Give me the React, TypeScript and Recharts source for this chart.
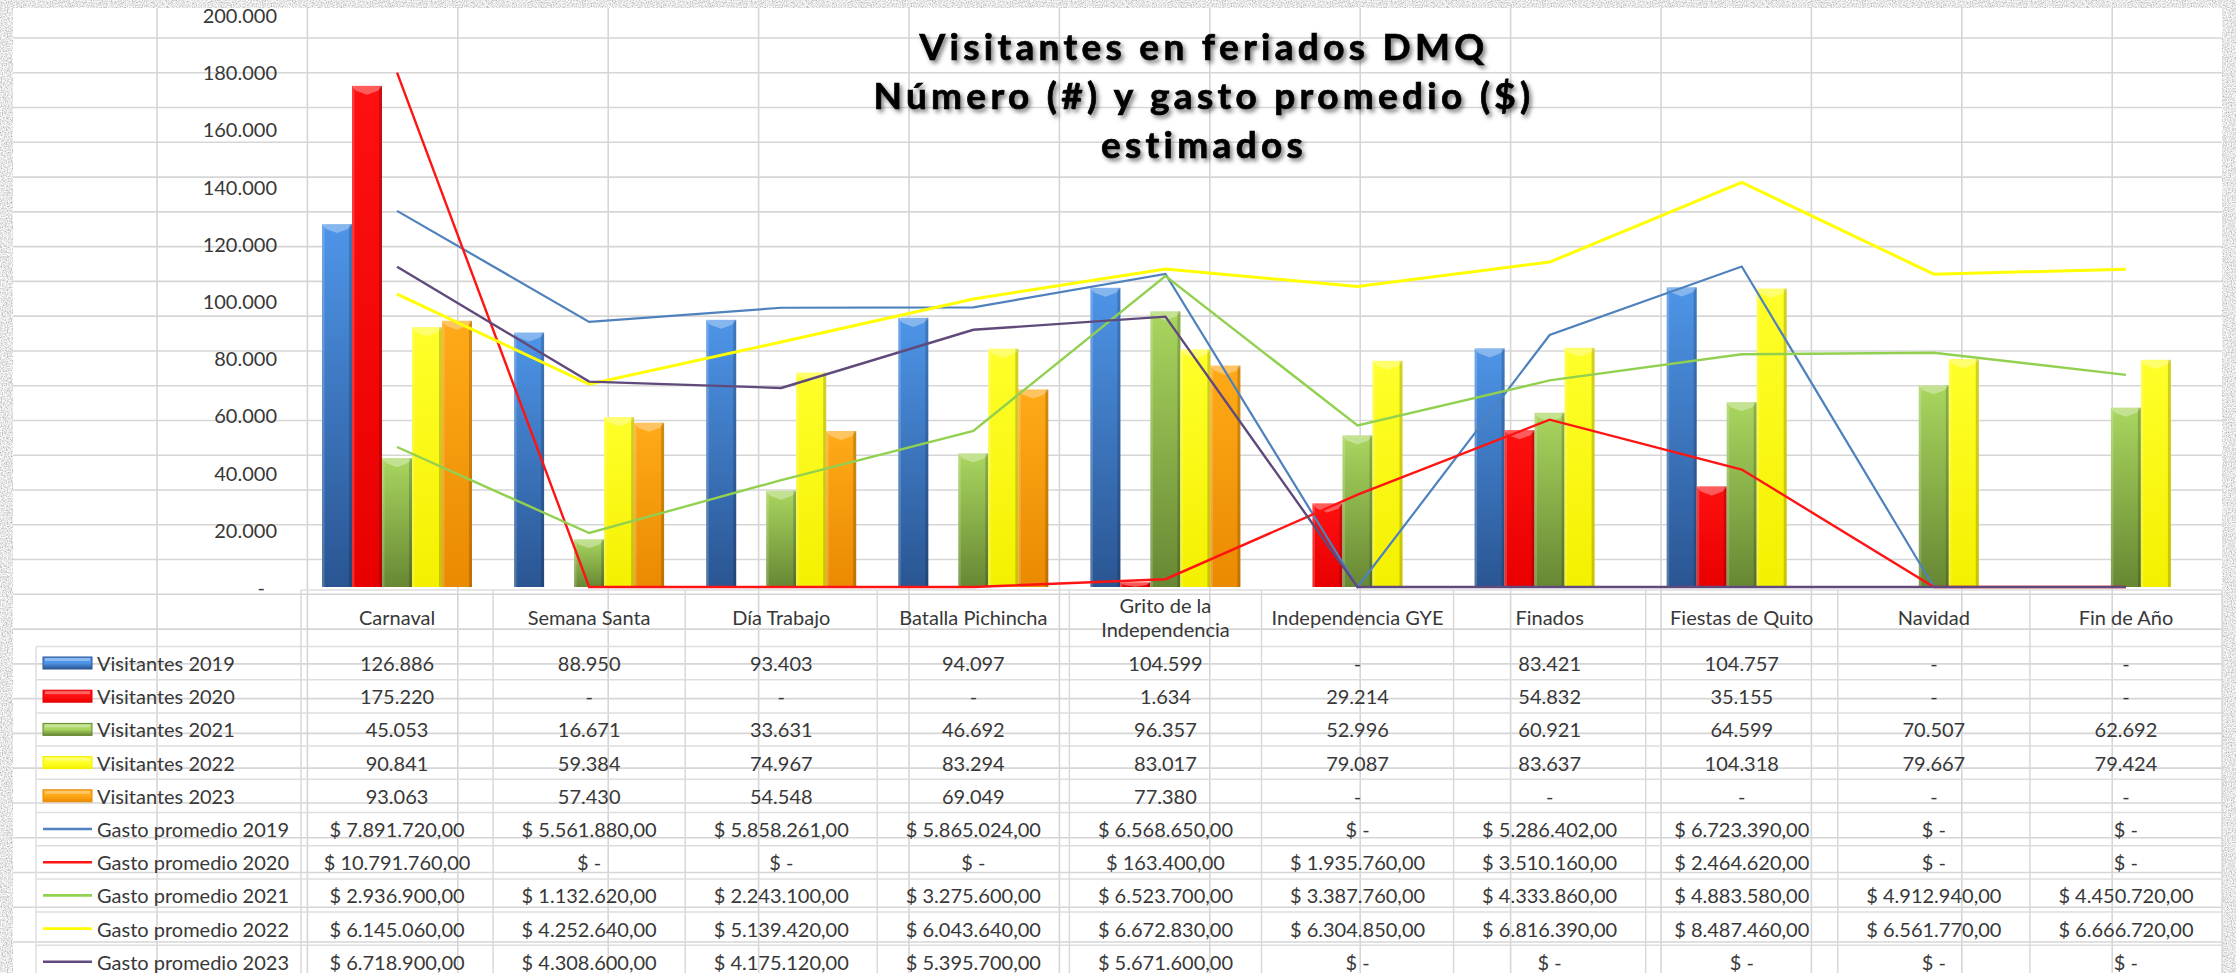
import React from 'react';
import { ComposedChart, Bar, Line, XAxis, YAxis } from 'recharts';

const categories = ['Carnaval', 'Semana Santa', 'Día Trabajo', 'Batalla Pichincha', 'Grito de la Independencia', 'Independencia GYE', 'Finados', 'Fiestas de Quito', 'Navidad', 'Fin de Año'];
const headerLines: string[][] = [['Carnaval'], ['Semana Santa'], ['Día Trabajo'], ['Batalla Pichincha'], ['Grito de la', 'Independencia'], ['Independencia GYE'], ['Finados'], ['Fiestas de Quito'], ['Navidad'], ['Fin de Año']];

const visitantes2019 = [126886, 88950, 93403, 94097, 104599, null, 83421, 104757, null, null];
const visitantes2020 = [175220, null, null, null, 1634, 29214, 54832, 35155, null, null];
const visitantes2021 = [45053, 16671, 33631, 46692, 96357, 52996, 60921, 64599, 70507, 62692];
const visitantes2022 = [90841, 59384, 74967, 83294, 83017, 79087, 83637, 104318, 79667, 79424];
const visitantes2023 = [93063, 57430, 54548, 69049, 77380, null, null, null, null, null];

const gasto2019 = [7891720, 5561880, 5858261, 5865024, 6568650, 0, 5286402, 6723390, 0, 0];
const gasto2020 = [10791760, 0, 0, 0, 163400, 1935760, 3510160, 2464620, 0, 0];
const gasto2021 = [2936900, 1132620, 2243100, 3275600, 6523700, 3387760, 4333860, 4883580, 4912940, 4450720];
const gasto2022 = [6145060, 4252640, 5139420, 6043640, 6672830, 6304850, 6816390, 8487460, 6561770, 6666720];
const gasto2023 = [6718900, 4308600, 4175120, 5395700, 5671600, 0, 0, 0, 0, 0];

const yTicks = [0, 20000, 40000, 60000, 80000, 100000, 120000, 140000, 160000, 180000, 200000];

const titleLines = ['Visitantes en feriados DMQ', 'Número (#) y gasto promedio ($)', 'estimados'];

const data = categories.map((c, i) => ({
  cat: c,
  v2019: visitantes2019[i],
  v2020: visitantes2020[i],
  v2021: visitantes2021[i],
  v2022: visitantes2022[i],
  v2023: visitantes2023[i],
  g2019: gasto2019[i],
  g2020: gasto2020[i],
  g2021: gasto2021[i],
  g2022: gasto2022[i],
  g2023: gasto2023[i],
}));

const W = 2236;
const H = 973;
const PLOT_L = 301;
const PLOT_R = 2222;
const PLOT_T = 15;
const PLOT_B = 587;
const FONT = "Lato, 'Liberation Sans', sans-serif";
const TXT = '#383838';

const barStyles = [
  { key: 'blue', top: '#4e95e8', bottom: '#2a5592', name: 'Visitantes 2019' },
  { key: 'red', top: '#ff1010', bottom: '#e80000', name: 'Visitantes 2020' },
  { key: 'green', top: '#a9d65f', bottom: '#678733', name: 'Visitantes 2021' },
  { key: 'yellow', top: '#ffff2a', bottom: '#f4f000', name: 'Visitantes 2022' },
  { key: 'orange', top: '#ffaa18', bottom: '#ea8a00', name: 'Visitantes 2023' },
];
const lineStyles = [
  { color: '#4f81bd', width: 2.2, name: 'Gasto promedio 2019' },
  { color: '#ff1414', width: 2.4, name: 'Gasto promedio 2020' },
  { color: '#92d050', width: 2.4, name: 'Gasto promedio 2021' },
  { color: '#ffff00', width: 3, name: 'Gasto promedio 2022' },
  { color: '#5f4a7b', width: 2.4, name: 'Gasto promedio 2023' },
];

const visRows = [visitantes2019, visitantes2020, visitantes2021, visitantes2022, visitantes2023];
const gasRows = [gasto2019, gasto2020, gasto2021, gasto2022, gasto2023];

const fmtInt = (n: number) => String(Math.round(n)).replace(/\B(?=(\d{3})+(?!\d))/g, '.');
const fmtVis = (n: number | null) => (n == null || n === 0 ? '-' : fmtInt(n));
const fmtMoney = (n: number) => (n === 0 ? '$ -' : '$ ' + fmtInt(n) + ',00');

const ROW0 = 663;
const ROW_STEP = 33.2;
const rowY = (i: number) => ROW0 + ROW_STEP * i;

const makeBarShape = (s: { key: string; top: string; bottom: string }) => (props: any) => {
  const { x, y, width, height } = props;
  if (x == null || !height || height <= 0.5) return <g />;
  const cap = Math.min(9, height);
  return (
    <g>
      <rect x={x} y={y} width={width} height={height} fill={`url(#bg-${s.key})`} />
      <rect x={x} y={y} width={2.5} height={height} fill="#ffffff" opacity={0.18} />
      <rect x={x + width - 3} y={y} width={3} height={height} fill="#000000" opacity={0.18} />
      <polygon
        points={`${x},${y} ${x + width},${y} ${x + width - 4},${y + cap * 0.55} ${x + width / 2},${y + cap} ${x + 4},${y + cap * 0.55}`}
        fill="#ffffff"
        opacity={0.32}
      />
    </g>
  );
};

const YTick = (props: any) => {
  const { x, y, payload } = props;
  const v = payload.value;
  return (
    <text x={v === 0 ? x - 12 : x} y={y} textAnchor="end" dominantBaseline="central" fontFamily={FONT} fontSize={20} fill={TXT}>
      {v === 0 ? '-' : fmtInt(v)}
    </text>
  );
};

const HALF = (PLOT_R - PLOT_L) / categories.length / 2;

const TableTick = (props: any) => {
  const { x, payload } = props;
  const i = categories.indexOf(payload.value);
  if (i < 0) return <g />;
  const hl = headerLines[i];
  return (
    <g>
      <line x1={x - HALF} x2={x - HALF} y1={590} y2={H} stroke="#d9d9d9" strokeWidth={1.5} />
      {i === categories.length - 1 && <line x1={x + HALF} x2={x + HALF} y1={590} y2={H} stroke="#d9d9d9" strokeWidth={1.5} />}
      {hl.length === 1 ? (
        <text x={x} y={617} textAnchor="middle" dominantBaseline="central" fontFamily={FONT} fontSize={20} fill={TXT}>{hl[0]}</text>
      ) : (
        hl.map((t, k) => (
          <text key={k} x={x} y={605 + k * 24} textAnchor="middle" dominantBaseline="central" fontFamily={FONT} fontSize={20} fill={TXT}>{t}</text>
        ))
      )}
      {visRows.map((r, k) => (
        <text key={'v' + k} x={x} y={rowY(k)} textAnchor="middle" dominantBaseline="central" fontFamily={FONT} fontSize={20} fill={TXT}>{fmtVis(r[i])}</text>
      ))}
      {gasRows.map((r, k) => (
        <text key={'g' + k} x={x} y={rowY(k + 5)} textAnchor="middle" dominantBaseline="central" fontFamily={FONT} fontSize={20} fill={TXT}>{fmtMoney(r[i])}</text>
      ))}
    </g>
  );
};

const Background = () => {
  const vLines: number[] = [];
  for (let k = -1; k < 15; k++) vLines.push(157 + 150.4 * k);
  const hLines: number[] = [];
  for (let k = -1; k < 28; k++) hLines.push(38 + 34.77 * k);
  const tLines: number[] = [];
  for (let k = 0; k < 10; k++) tLines.push(646.5 + ROW_STEP * k);
  return (
    <svg width={W} height={H} style={{ position: 'absolute', left: 0, top: 0 }}>
      <defs>
        <filter id="noise" x="0" y="0" width="100%" height="100%">
          <feTurbulence type="fractalNoise" baseFrequency="0.8" numOctaves="3" seed="7" result="t" />
          <feColorMatrix in="t" type="saturate" values="0" result="g" />
          <feComponentTransfer in="g">
            <feFuncR type="linear" slope="1.4" intercept="0.1" />
            <feFuncG type="linear" slope="1.4" intercept="0.1" />
            <feFuncB type="linear" slope="1.4" intercept="0.1" />
            <feFuncA type="linear" slope="0" intercept="1" />
          </feComponentTransfer>
        </filter>
        <filter id="tshadow" x="-10%" y="-30%" width="120%" height="160%">
          <feDropShadow dx="2.5" dy="3" stdDeviation="2" floodColor="#000" floodOpacity="0.5" />
        </filter>
        {barStyles.map((s) => (
          <linearGradient key={s.key} id={`bg-${s.key}`} x1="0" y1="0" x2="0" y2="1">
            <stop offset="0" stopColor={s.top} />
            <stop offset="1" stopColor={s.bottom} />
          </linearGradient>
        ))}
        {barStyles.map((s) => (
          <linearGradient key={'k' + s.key} id={`kg-${s.key}`} x1="0" y1="0" x2="0" y2="1">
            <stop offset="0" stopColor={s.top} />
            <stop offset="0.5" stopColor={s.top} />
            <stop offset="1" stopColor={s.bottom} />
          </linearGradient>
        ))}
      </defs>
      <rect x={0} y={0} width={W} height={H} fill="#d0d0d0" filter="url(#noise)" />
      <rect x={13} y={8} width={2222 - 13} height={H - 8} fill="#ffffff" />
      <g stroke="#d6d6d6" strokeWidth={1.6}>
        {vLines.filter((v) => v > 13 && v < 2222).map((v, k) => (
          <line key={'v' + k} x1={v} x2={v} y1={8} y2={H} />
        ))}
        {hLines.filter((v) => v > 8).map((v, k) => (
          <line key={'h' + k} x1={13} x2={2222} y1={v} y2={v} />
        ))}
      </g>
      <g stroke="#dedede" strokeWidth={1.5}>
        <line x1={PLOT_L} x2={PLOT_R} y1={590} y2={590} />
        {tLines.map((v, k) => (
          <line key={'t' + k} x1={36} x2={PLOT_R} y1={v} y2={v} />
        ))}
        <line x1={36} x2={36} y1={646.5} y2={H} />
      </g>
      {barStyles.map((s, k) => (
        <g key={'lk' + k}>
          <rect x={43} y={rowY(k) - 6} width={49} height={12} fill={`url(#kg-${s.key})`} stroke={s.bottom} strokeWidth={1} />
          <rect x={45} y={rowY(k) - 5} width={45} height={3} fill="#ffffff" opacity={0.35} />
          <text x={97} y={rowY(k)} dominantBaseline="central" fontFamily={FONT} fontSize={20} fill={TXT}>{s.name}</text>
        </g>
      ))}
      {lineStyles.map((s, k) => (
        <g key={'ll' + k}>
          <line x1={43} x2={92} y1={rowY(k + 5)} y2={rowY(k + 5)} stroke={s.color} strokeWidth={2.6} />
          <text x={97} y={rowY(k + 5)} dominantBaseline="central" fontFamily={FONT} fontSize={20} fill={TXT}>{s.name}</text>
        </g>
      ))}
      <g filter="url(#tshadow)">
        {titleLines.map((t, k) => (
          <text key={k} x={1204} y={60 + k * 49} textAnchor="middle" fontFamily={FONT} fontWeight={700} fontSize={37} letterSpacing={4.3} fill="#000000" stroke="#000000" strokeWidth={0.7}>
            {t}
          </text>
        ))}
      </g>
    </svg>
  );
};

export default function App() {
  const barKeys = ['v2019', 'v2020', 'v2021', 'v2022', 'v2023'];
  const lineKeys = ['g2019', 'g2020', 'g2021', 'g2022', 'g2023'];
  return (
    <div style={{ position: 'absolute', left: 0, top: 0, width: W, height: H, overflow: 'hidden', background: '#fff' }}>
      <Background />
      <div style={{ position: 'absolute', left: 0, top: 0 }}>
        <ComposedChart
          width={W}
          height={H}
          data={data}
          margin={{ top: PLOT_T, right: W - PLOT_R, bottom: 0, left: 0 }}
          barGap={0}
          barSize={30}
        >
          <XAxis
            dataKey="cat"
            height={H - PLOT_B}
            interval={0}
            tickLine={false}
            axisLine={false}
            tickSize={0}
            tickMargin={0}
            tick={<TableTick />}
          />
          <YAxis
            yAxisId="left"
            width={PLOT_L}
            domain={[0, 200000]}
            ticks={yTicks}
            interval={0}
            tickLine={false}
            axisLine={false}
            tickSize={0}
            tickMargin={24}
            tick={<YTick />}
          />
          <YAxis yAxisId="right" orientation="right" hide domain={[0, 12000000]} />
          {barKeys.map((k, i) => (
            <Bar key={k} dataKey={k} yAxisId="left" isAnimationActive={false} shape={makeBarShape(barStyles[i])} fill={barStyles[i].top} />
          ))}
          {lineKeys.map((k, i) => (
            <Line
              key={k}
              dataKey={k}
              yAxisId="right"
              type="linear"
              stroke={lineStyles[i].color}
              strokeWidth={lineStyles[i].width}
              dot={false}
              activeDot={false}
              isAnimationActive={false}
            />
          ))}
        </ComposedChart>
      </div>
    </div>
  );
}
